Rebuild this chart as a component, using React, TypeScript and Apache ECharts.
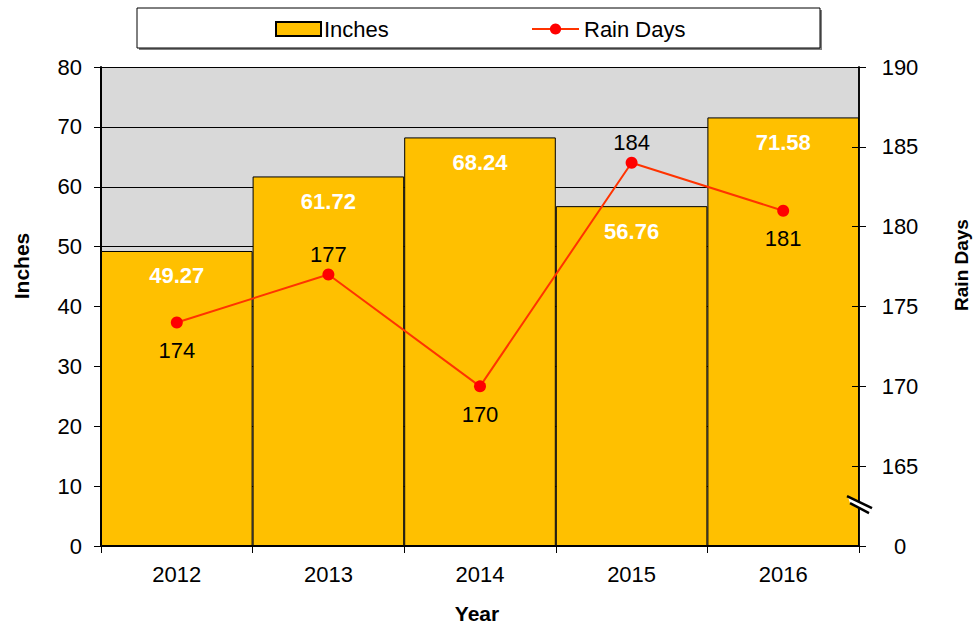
import React, { useEffect, useRef } from 'react';
import * as echarts from 'echarts';

const years = ['2012', '2013', '2014', '2015', '2016'];
const inches = [49.27, 61.72, 68.24, 56.76, 71.58];
const rainDays = [174, 177, 170, 184, 181];
const rainLabelPos = ['bottom', 'top', 'bottom', 'top', 'bottom'];

const leftMin = 0;
const leftMax = 80;
const leftInterval = 10;
const rightMin = 160;
const rightMax = 190;
const rightInterval = 5;
const rightBreakValue = 162.5;

const W = 976;
const H = 631;
const GRID = { left: 101, right: 117, top: 67, bottom: 85 };
const FONT = 'Liberation Sans, Arial, sans-serif';

export default function App() {
  const ref = useRef<HTMLDivElement>(null);

  useEffect(() => {
    if (!ref.current) return;
    const chart = echarts.init(ref.current, undefined, { renderer: 'svg', width: W, height: H });

    const rightFormatter = (v: number) => (v === rightMin ? '0' : String(v));

    const option: any = {
      animation: false,
      backgroundColor: '#fff',
      textStyle: { fontFamily: FONT },
      grid: {
        left: GRID.left,
        right: GRID.right,
        top: GRID.top,
        bottom: GRID.bottom,
        show: true,
        backgroundColor: '#D9D9D9',
        borderWidth: 0,
        containLabel: false,
      },
      legend: [
        {
          data: ['Inches'],
          left: 275,
          top: 18,
          padding: 0,
          itemWidth: 45,
          itemHeight: 14,
          icon: 'rect',
          textStyle: { fontSize: 22, color: '#000', fontFamily: FONT, padding: [0, 0, 0, -2] },
        },
        {
          data: ['Rain Days'],
          left: 531,
          top: 18,
          padding: 0,
          itemWidth: 47,
          itemHeight: 14,
          textStyle: { fontSize: 22, color: '#000', fontFamily: FONT, padding: [0, 0, 0, 0] },
        },
      ],
      xAxis: {
        type: 'category',
        data: years,
        boundaryGap: true,
        axisLine: { show: true, lineStyle: { color: '#000', width: 2 } },
        axisTick: { show: true, length: 7, lineStyle: { color: '#000', width: 1 } },
        axisLabel: { fontSize: 22, color: '#000', margin: 17, fontFamily: FONT },
        splitLine: { show: false },
      },
      yAxis: [
        {
          type: 'value',
          position: 'left',
          min: leftMin,
          max: leftMax,
          interval: leftInterval,
          axisLine: { show: true, lineStyle: { color: '#000', width: 2 } },
          axisTick: { show: true, length: 7, lineStyle: { color: '#000', width: 1 } },
          axisLabel: { fontSize: 22, color: '#000', margin: 19, fontFamily: FONT },
          splitLine: { show: true, lineStyle: { color: '#000', width: 1 } },
        },
        {
          type: 'value',
          position: 'right',
          min: rightMin,
          max: rightMax,
          interval: rightInterval,
          axisLine: { show: true, lineStyle: { color: '#000', width: 1.5 } },
          axisTick: { show: true, length: 7, lineStyle: { color: '#000', width: 1 } },
          axisLabel: {
            fontSize: 22,
            color: '#000',
            margin: 41,
            align: 'center',
            fontFamily: FONT,
            formatter: rightFormatter,
          },
          splitLine: { show: false },
        },
        {
          type: 'value',
          position: 'right',
          min: rightMin,
          max: rightMax,
          interval: rightInterval,
          z: 10,
          axisLine: { show: true, lineStyle: { color: '#000', width: 1.5 } },
          axisTick: { show: true, inside: true, length: 7, lineStyle: { color: '#000', width: 1 } },
          axisLabel: { show: false },
          splitLine: { show: false },
        },
      ],
      series: [
        {
          name: 'Inches',
          type: 'bar',
          data: inches,
          barCategoryGap: '0%',
          itemStyle: { color: '#FFC000', borderColor: '#000', borderWidth: 1 },
          label: {
            show: true,
            position: 'insideTop',
            distance: 14,
            color: '#fff',
            fontWeight: 'bold',
            fontSize: 22,
            fontFamily: FONT,
            formatter: (p: any) => Number(p.value).toFixed(2),
          },
        },
        {
          name: 'Rain Days',
          type: 'line',
          yAxisIndex: 1,
          z: 12,
          data: rainDays.map((v, i) => ({
            value: v,
            label: { position: rainLabelPos[i], distance: rainLabelPos[i] === 'top' ? 3 : 11 },
          })),
          symbol: 'circle',
          symbolSize: 12,
          lineStyle: { color: '#FF3300', width: 2 },
          itemStyle: { color: '#FF0000' },
          label: { show: true, fontSize: 22, color: '#000', fontFamily: FONT },
        },
      ],
      graphic: [
        {
          id: 'legendShadow',
          type: 'rect',
          z: 0,
          shape: { x: 139, y: 10, width: 683, height: 40 },
          style: { fill: '#808080' },
        },
        {
          id: 'legendBox',
          type: 'rect',
          z: 1,
          shape: { x: 137, y: 8, width: 683, height: 40 },
          style: { fill: '#fff', stroke: '#000', lineWidth: 1 },
        },
        {
          id: 'nameInches',
          type: 'text',
          x: 21,
          y: 266,
          rotation: Math.PI / 2,
          style: {
            text: 'Inches',
            font: `bold 21px ${FONT}`,
            fill: '#000',
            textAlign: 'center',
            textVerticalAlign: 'middle',
          },
        },
        {
          id: 'nameRain',
          type: 'text',
          x: 961,
          y: 265,
          rotation: Math.PI / 2,
          style: {
            text: 'Rain Days',
            font: `bold 19px ${FONT}`,
            fill: '#000',
            textAlign: 'center',
            textVerticalAlign: 'middle',
          },
        },
        {
          id: 'nameYear',
          type: 'text',
          x: 477,
          y: 613,
          style: {
            text: 'Year',
            font: `bold 21px ${FONT}`,
            fill: '#000',
            textAlign: 'center',
            textVerticalAlign: 'middle',
          },
        },
      ],
    };

    chart.setOption(option);

    // axis-break mark on the right axis, positioned through the axis scale
    const by = chart.convertToPixel({ yAxisIndex: 1 }, rightBreakValue) as number;
    const bx = W - GRID.right;
    chart.setOption({
      graphic: [
        {
          id: 'breakFill',
          type: 'polygon',
          z: 100,
          shape: { points: [[bx - 11, by - 9], [bx + 12, by + 2], [bx + 10, by + 7], [bx - 9, by - 3]] },
          style: { fill: '#fff' },
        },
        {
          id: 'breakLine1',
          type: 'line',
          z: 101,
          shape: { x1: bx - 12, y1: by - 10, x2: bx + 13, y2: by + 2 },
          style: { stroke: '#000', lineWidth: 2.5 },
        },
        {
          id: 'breakLine2',
          type: 'line',
          z: 101,
          shape: { x1: bx - 9, y1: by - 3, x2: bx + 10, y2: by + 7 },
          style: { stroke: '#000', lineWidth: 2.5 },
        },
      ],
    });

    return () => {
      chart.dispose();
    };
  }, []);

  return (
    <div
      ref={ref}
      style={{ position: 'fixed', left: 0, top: 0, width: W, height: H }}
    />
  );
}
